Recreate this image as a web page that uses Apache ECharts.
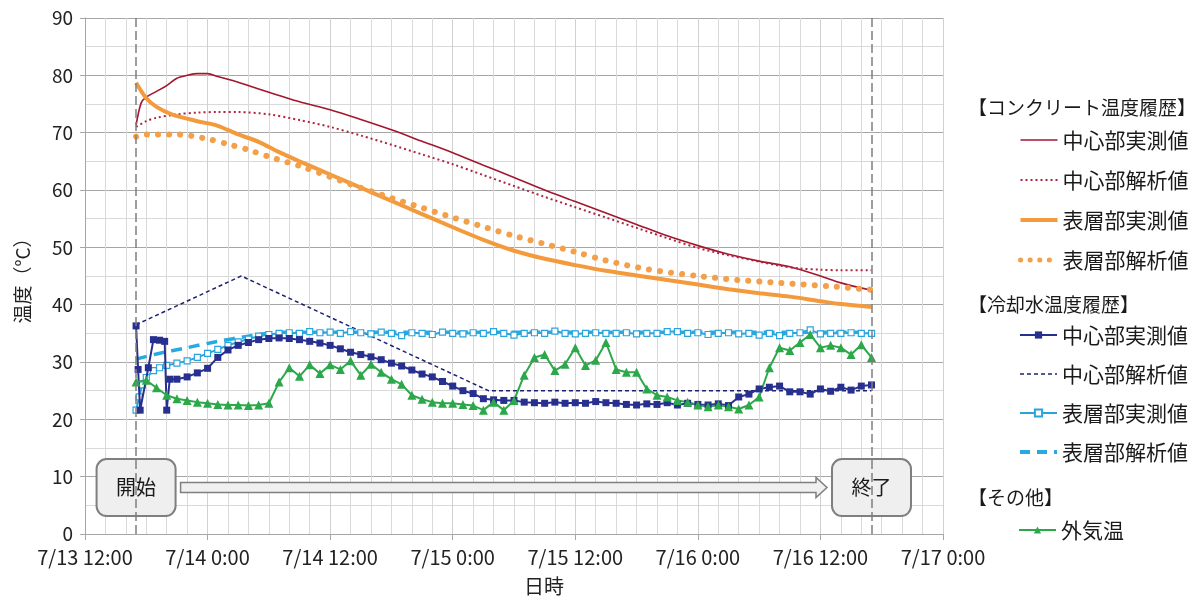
<!DOCTYPE html>
<html>
<head>
<meta charset="utf-8">
<script src="https://cdn.jsdelivr.net/npm/echarts@6/dist/echarts.min.js"></script>
<style>
html, body { margin: 0; padding: 0; background: #fff; }
#chart { width: 1200px; height: 601px; }
</style>
</head>
<body>
<div id="chart"></div>
<script>
// 時刻は 7/13 12:00 からの経過時間[h]
var startHour = 5;   // 7/13 17:00 開始
var endHour = 77;    // 7/16 17:00 終了

// 【コンクリート温度履歴】
var concCenterMeasT = [5, 5.5, 6, 7, 8, 9, 10, 11, 12, 13, 15, 17, 19, 21, 24, 27, 30, 33, 36, 39, 42, 45, 48, 51, 54, 57, 60, 63, 66, 69, 72, 74, 77];
var concCenterMeasV = [71.3, 75.2, 76.2, 77.2, 78.2, 79.5, 80.0, 80.3, 80.3, 79.8, 78.8, 77.6, 76.5, 75.4, 74.0, 72.3, 70.5, 68.5, 66.5, 64.3, 62.2, 60.0, 58.0, 56.0, 54.0, 52.0, 50.3, 48.8, 47.6, 46.6, 45.0, 43.8, 42.5];

var concCenterCalcT = [5, 6, 7, 9, 11, 13, 15, 18, 21, 24, 27, 30, 33, 36, 39, 42, 45, 48, 51, 54, 57, 60, 63, 66, 68, 70, 72, 74, 77];
var concCenterCalcV = [71.0, 72.0, 72.6, 73.2, 73.5, 73.6, 73.6, 73.2, 72.2, 71.0, 69.5, 67.9, 66.2, 64.5, 62.6, 60.7, 58.8, 57.0, 55.2, 53.4, 51.6, 49.9, 48.6, 47.5, 46.8, 46.3, 46.1, 46.0, 46.0];

var concSurfMeasT = [5, 6, 7, 8.5, 11, 13, 15, 17, 19, 21, 24, 27, 30, 33, 36, 39, 42, 45, 48, 51, 54, 57, 60, 63, 66, 69, 72, 74, 77];
var concSurfMeasV = [78.7, 76.0, 74.5, 73.2, 72.0, 71.2, 69.7, 68.4, 66.6, 65.0, 62.7, 60.4, 58.1, 55.8, 53.5, 51.3, 49.4, 48.0, 46.9, 45.9, 45.1, 44.3, 43.5, 42.7, 42.0, 41.4, 40.6, 40.1, 39.6];

var concSurfCalcT = [5, 6, 9, 12, 14, 16, 18, 21, 24, 26, 30, 33, 36, 39, 42, 45, 48, 51, 55, 60, 64, 68, 73, 77];
var concSurfCalcV = [69.3, 69.7, 69.7, 68.9, 68.0, 67.0, 65.8, 64.2, 62.3, 61.0, 58.6, 56.9, 55.2, 53.6, 52.0, 50.6, 49.2, 47.7, 46.2, 45.0, 44.3, 43.8, 43.2, 42.6];

// 【冷却水温度履歴】
var waterCenterMeasT = [5.0, 5.2, 5.4, 6.2, 6.7, 7.3, 7.8, 8.0, 8.3,
  9, 10, 11, 12, 13, 14, 15, 16, 17, 18, 19, 20, 21, 22, 23, 24, 25, 26, 27, 28, 29, 30,
  31, 32, 33, 34, 35, 36, 37, 38, 39, 40, 41, 42, 43, 44, 45, 46, 47, 48, 49, 50, 51, 52, 53, 54,
  55, 56, 57, 58, 59, 60, 61, 62, 63, 64, 65, 66, 67, 68, 69, 70, 71, 72, 73, 74, 75, 76, 77];
var waterCenterMeasV = [36.3, 28.7, 21.6, 29.0, 33.9, 33.8, 33.6, 21.6, 27.0,
  27.0, 27.4, 28.1, 28.9, 30.8, 32.1, 32.9, 33.4, 33.9, 34.1, 34.2, 34.1, 33.9, 33.6, 33.3, 32.9, 32.3, 31.7, 31.3, 30.9, 30.4, 29.8,
  29.3, 28.6, 27.9, 27.4, 26.6, 25.8, 25.0, 24.5, 23.6, 23.4, 23.3, 23.3, 23.0, 22.9, 22.8, 23.0, 22.8, 22.9, 22.8, 23.1, 22.9, 22.8, 22.6, 22.5,
  22.7, 22.6, 22.9, 22.5, 22.8, 22.6, 22.5, 22.7, 22.4, 23.9, 24.4, 25.3, 25.6, 25.8, 24.8, 24.8, 24.4, 25.3, 24.9, 25.6, 25.1, 25.8, 26.0];

var waterCenterCalcT = [5, 15.3, 39.5, 77];
var waterCenterCalcV = [36.5, 45.0, 25.0, 25.0];

var waterSurfMeasT = [5.0, 5.3, 5.6, 6.0, 6.7, 7.3,
  8, 9, 10, 11, 12, 13, 14, 15, 16, 17, 18, 19, 20, 21, 22, 23, 24, 25, 26, 27, 28, 29, 30,
  31, 32, 33, 34, 35, 36, 37, 38, 39, 40, 41, 42, 43, 44, 45, 46, 47, 48, 49, 50, 51, 52, 53, 54,
  55, 56, 57, 58, 59, 60, 61, 62, 63, 64, 65, 66, 67, 68, 69, 70, 71, 72, 73, 74, 75, 76, 77];
var waterSurfMeasV = [21.6, 23.9, 26.0, 27.3, 28.5, 29.0,
  29.4, 29.8, 30.2, 30.8, 31.5, 32.2, 32.9, 33.5, 34.0, 34.5, 34.8, 35.0, 35.1, 35.0, 35.3, 35.1, 35.2, 35.0, 35.3, 35.1, 34.9, 35.2, 35.0,
  34.6, 35.1, 35.0, 34.8, 35.2, 35.0, 34.9, 35.1, 35.0, 35.3, 35.0, 34.7, 35.0, 35.1, 35.0, 35.4, 35.0, 34.9, 35.0, 35.1, 35.0, 35.0, 35.1, 34.9,
  35.0, 35.0, 35.3, 35.3, 35.0, 35.1, 34.8, 35.0, 35.1, 34.9, 35.0, 34.7, 35.0, 34.6, 35.0, 35.1, 35.6, 34.9, 35.0, 35.0, 35.1, 35.0, 35.0];

var waterSurfCalcT = [5, 7, 10, 13, 16, 19, 77];
var waterSurfCalcV = [30.5, 31.4, 32.5, 33.6, 34.5, 35.2, 35.2];

// 【その他】
var airT = [5, 6, 7, 8, 9, 10, 11, 12, 13, 14, 15, 16, 17, 18, 19, 20, 21, 22, 23, 24, 25, 26, 27, 28, 29, 30,
  31, 32, 33, 34, 35, 36, 37, 38, 39, 40, 41, 42, 43, 44, 45, 46, 47, 48, 49, 50, 51, 52, 53, 54,
  55, 56, 57, 58, 59, 60, 61, 62, 63, 64, 65, 66, 67, 68, 69, 70, 71, 72, 73, 74, 75, 76, 77];
var airV = [26.5, 26.8, 25.5, 24.2, 23.6, 23.3, 23.0, 22.8, 22.6, 22.5, 22.5, 22.4, 22.5, 22.8, 26.5, 29.0, 27.5, 29.5, 28.0, 29.5, 28.7, 30.2, 27.7, 29.6, 28.2, 27.0,
  26.1, 24.2, 23.5, 23.0, 22.8, 22.8, 22.6, 22.4, 21.6, 23.0, 21.6, 23.3, 27.7, 30.8, 31.3, 28.5, 29.6, 32.5, 29.4, 30.3, 33.4, 28.7, 28.2, 28.2,
  25.3, 24.2, 23.9, 23.3, 23.0, 22.5, 22.2, 22.5, 22.2, 21.8, 22.5, 23.9, 29.0, 32.5, 32.0, 33.4, 34.8, 32.5, 32.9, 32.5, 31.3, 33.0, 30.8];

var groupConc = ['中心部実測値#c', '中心部解析値#c', '表層部実測値#c', '表層部解析値#c'];
var groupWater = ['中心部実測値#w', '中心部解析値#w', '表層部実測値#w', '表層部解析値#w'];
var groupOther = ['外気温'];

// 系列の線の形（凡例でも同じものを使う）
var styles = {
  '中心部実測値#c': { width: 1.6, color: '#a3162f', type: 'solid' },
  '中心部解析値#c': { width: 2, color: '#b0243f', type: [2, 3] },
  '表層部実測値#c': { width: 4, color: '#f39a3c', type: 'solid' },
  '表層部解析値#c': { width: 6, color: '#f4a04a', type: [0.1, 11], cap: 'round' },
  '中心部実測値#w': { width: 2, color: '#28308f', type: 'solid' },
  '中心部解析値#w': { width: 1.5, color: '#1c2270', type: [4, 3] },
  '表層部実測値#w': { width: 2, color: '#2aa4dc', type: 'solid' },
  '表層部解析値#w': { width: 3.5, color: '#29a9e1', type: [11, 7] },
  '外気温': { width: 2, color: '#2ca84a', type: 'solid' }
};
// 記号なしの系列（凡例は線だけ）
var lineOnly = ['中心部実測値#c', '中心部解析値#c', '表層部実測値#c', '表層部解析値#c', '中心部解析値#w', '表層部解析値#w'];
var legendLineStyle = {
  '表層部解析値#c': { width: 5, color: '#f4a04a', type: [0.1, 9.5], cap: 'round' },
  '表層部解析値#w': { width: 4, color: '#29a9e1', type: [10, 7] }
};

function pairs(t, v) {
  return t.map(function (x, i) { return [x, v[i]]; });
}

function timeLabel(h) {
  var day = 13 + Math.floor((h + 12) / 24);
  var hr = (h + 12) % 24;
  return '7/' + day + ' ' + hr + ':00';
}

function legendItems(names) {
  return names.map(function (n) {
    var item = { name: n, lineStyle: legendLineStyle[n] || styles[n] };
    if (lineOnly.indexOf(n) >= 0) {
      item.itemStyle = { opacity: 0 };
    }
    return item;
  });
}

var FONT = '"Noto Sans CJK JP", "Noto Sans", sans-serif';
var chart = echarts.init(document.getElementById('chart'));

var legendBase = {
  orient: 'vertical',
  left: 1018,
  padding: 0,
  itemWidth: 37,
  itemHeight: 9,
  selectedMode: false,
  textStyle: { fontFamily: FONT, fontSize: 21, color: '#1a1a1a', lineHeight: 24 },
  formatter: function (name) { return name.split('#')[0]; }
};

var markLine = {
  silent: true, symbol: 'none', label: { show: false },
  lineStyle: { color: '#7f7f7f', width: 1.5, type: [9, 4] },
  data: [{ xAxis: startHour }, { xAxis: endHour }]
};

var option = {
  animation: false,
  backgroundColor: '#fff',
  textStyle: { fontFamily: FONT },
  grid: { left: 85, right: 257, top: 18, bottom: 63 },
  legend: [
    Object.assign({}, legendBase, { top: 128, itemGap: 16, data: legendItems(groupConc) }),
    Object.assign({}, legendBase, { top: 323, itemGap: 15, data: legendItems(groupWater) }),
    Object.assign({}, legendBase, { top: 518, data: legendItems(groupOther) })
  ],
  xAxis: {
    type: 'value',
    min: 0,
    max: 84,
    interval: 12,
    name: '日時',
    nameLocation: 'middle',
    nameGap: 42,
    nameTextStyle: { fontSize: 20, color: '#222', padding: [0, 0, 0, 60] },
    axisLine: { lineStyle: { color: '#a6a6a6' } },
    axisTick: { show: true, length: 6, lineStyle: { color: '#a6a6a6' } },
    axisLabel: { fontSize: 20, color: '#222', margin: 13, formatter: timeLabel },
    splitLine: { show: true, lineStyle: { color: '#d0d0d0', width: 1 } },
    minorTick: { show: false, splitNumber: 6 },
    minorSplitLine: { show: true, lineStyle: { color: '#d9d9d9', width: 1 } }
  },
  yAxis: {
    type: 'value',
    min: 0,
    max: 90,
    interval: 10,
    name: '温度（°C）',
    nameLocation: 'middle',
    nameGap: 53,
    nameRotate: 90,
    nameTextStyle: { fontSize: 19, color: '#222' },
    axisLine: { show: true, lineStyle: { color: '#a6a6a6' } },
    axisTick: { show: true, length: 5, lineStyle: { color: '#a6a6a6' } },
    axisLabel: { fontSize: 19, color: '#222', margin: 12 },
    splitLine: { show: true, lineStyle: { color: '#a6a6a6', width: 1 } },
    minorTick: { show: false, splitNumber: 2 },
    minorSplitLine: { show: true, lineStyle: { color: '#d9d9d9', width: 1 } }
  },
  series: [
    {
      name: groupConc[0], type: 'line', data: pairs(concCenterMeasT, concCenterMeasV),
      symbol: 'none', smooth: 0.3, color: styles[groupConc[0]].color,
      lineStyle: styles[groupConc[0]], markLine: markLine, z: 3
    },
    {
      name: groupConc[1], type: 'line', data: pairs(concCenterCalcT, concCenterCalcV),
      symbol: 'none', smooth: 0.3, color: styles[groupConc[1]].color,
      lineStyle: styles[groupConc[1]]
    },
    {
      name: groupConc[2], type: 'line', data: pairs(concSurfMeasT, concSurfMeasV),
      symbol: 'none', smooth: 0.3, color: styles[groupConc[2]].color,
      lineStyle: styles[groupConc[2]]
    },
    {
      name: groupConc[3], type: 'line', data: pairs(concSurfCalcT, concSurfCalcV),
      symbol: 'none', smooth: 0.3, color: styles[groupConc[3]].color,
      lineStyle: styles[groupConc[3]]
    },
    {
      name: groupWater[0], type: 'line', data: pairs(waterCenterMeasT, waterCenterMeasV),
      symbol: 'rect', symbolSize: 7, showAllSymbol: true, color: '#28308f',
      itemStyle: { color: '#28308f' },
      lineStyle: styles[groupWater[0]], z: 4
    },
    {
      name: groupWater[1], type: 'line', data: pairs(waterCenterCalcT, waterCenterCalcV),
      symbol: 'none', color: styles[groupWater[1]].color,
      lineStyle: styles[groupWater[1]]
    },
    {
      name: groupWater[2], type: 'line', data: pairs(waterSurfMeasT, waterSurfMeasV),
      symbol: 'rect', symbolSize: 6, showAllSymbol: true, color: '#2aa4dc',
      itemStyle: { color: '#fff', borderColor: '#2aa4dc', borderWidth: 1.2 },
      lineStyle: styles[groupWater[2]], z: 3
    },
    {
      name: groupWater[3], type: 'line', data: pairs(waterSurfCalcT, waterSurfCalcV),
      symbol: 'none', smooth: 0.3, color: styles[groupWater[3]].color,
      lineStyle: styles[groupWater[3]]
    },
    {
      name: groupOther[0], type: 'line', data: pairs(airT, airV),
      symbol: 'triangle', symbolSize: 9, showAllSymbol: true, color: '#2ca84a',
      itemStyle: { color: '#2ca84a' },
      lineStyle: styles[groupOther[0]], z: 4
    }
  ]
};

chart.setOption(option);

// 開始・終了の枠と矢印（データ座標から位置を求める）
var labelLevel = 8.1;
var pStart = chart.convertToPixel({ gridIndex: 0 }, [startHour, labelLevel]);
var pEnd = chart.convertToPixel({ gridIndex: 0 }, [endHour, labelLevel]);
var boxW = 79, boxH = 57;

function box(p, text) {
  return {
    type: 'group', z: 100,
    children: [
      {
        type: 'rect',
        shape: { x: p[0] - boxW / 2, y: p[1] - boxH / 2, width: boxW, height: boxH, r: 10 },
        style: { fill: '#efefef', stroke: '#7f7f7f', lineWidth: 2 }
      },
      {
        type: 'text',
        x: p[0], y: p[1],
        style: { text: text, fill: '#1a1a1a', font: '20px ' + FONT, align: 'center', verticalAlign: 'middle' }
      }
    ]
  };
}

var ax0 = pStart[0] + boxW / 2 + 5;
var ax1 = pEnd[0] - boxW / 2 - 5;
var cy = pStart[1];
var arrow = {
  type: 'polygon', z: 100,
  shape: {
    points: [
      [ax0, cy - 5], [ax1 - 11, cy - 5], [ax1 - 11, cy - 10], [ax1, cy],
      [ax1 - 11, cy + 10], [ax1 - 11, cy + 5], [ax0, cy + 5]
    ]
  },
  style: { fill: '#f0f0f0', stroke: '#7f7f7f', lineWidth: 1.5 }
};

function header(y, text) {
  return {
    type: 'text', z: 100, x: 968, y: y,
    style: { text: text, fill: '#1a1a1a', font: '19px ' + FONT, verticalAlign: 'middle' }
  };
}

chart.setOption({
  graphic: [
    box(pStart, '開始'),
    box(pEnd, '終了'),
    arrow,
    header(108, '【コンクリート温度履歴】'),
    header(305, '【冷却水温度履歴】'),
    header(498, '【その他】')
  ]
});
</script>
</body>
</html>
